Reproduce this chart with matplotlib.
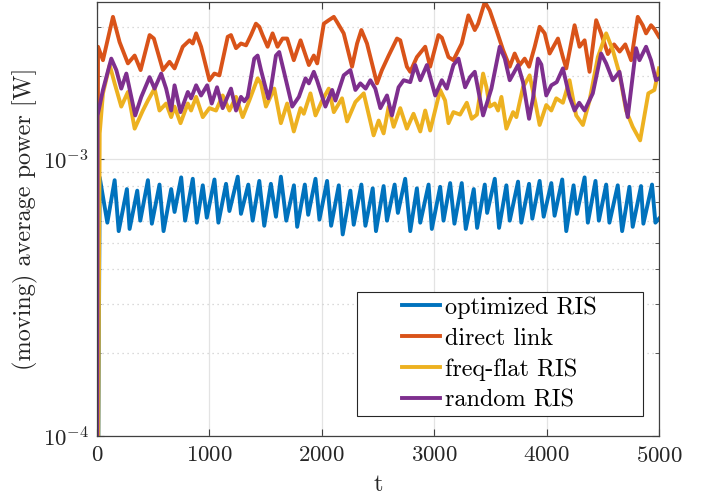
import matplotlib
matplotlib.use("Agg")
import matplotlib.pyplot as plt
from matplotlib.patches import Rectangle
import numpy as np

# moving average power, values in mW (scaled to W below)
t_opt = [0, 24, 92, 157, 193, 266, 290, 358, 385, 453, 488, 556, 592, 660, 690, 749, 784, 852, 888, 941,
         977, 1045, 1080, 1148, 1178, 1252, 1281, 1346, 1385, 1444, 1488, 1547, 1592, 1636, 1684, 1752, 1781,
         1849, 1879, 1944, 1979, 2047, 2083, 2151, 2186, 2254, 2284, 2352, 2388, 2453, 2482, 2550, 2580, 2648,
         2677, 2742, 2787, 2846, 2876, 2950, 2979, 3053, 3083, 3142, 3180, 3245, 3281, 3352, 3382, 3450, 3471,
         3539, 3577, 3642, 3672, 3746, 3775, 3844, 3873, 3938, 3974, 4042, 4071, 4139, 4175, 4240, 4269, 4338,
         4367, 4435, 4465, 4530, 4559, 4633, 4672, 4737, 4766, 4840, 4861, 4938, 4968, 5000]
p_opt = [0.01, 0.86, 0.59, 0.84, 0.55, 0.78, 0.56, 0.77, 0.60, 0.84, 0.585, 0.81, 0.55, 0.78, 0.645, 0.86, 0.60,
         0.85, 0.59, 0.805, 0.615, 0.845, 0.59, 0.815, 0.65, 0.865, 0.635, 0.81, 0.60, 0.835, 0.575, 0.815, 0.62,
         0.865, 0.60, 0.805, 0.57, 0.81, 0.63, 0.85, 0.605, 0.835, 0.575, 0.805, 0.535, 0.77, 0.58, 0.81, 0.575,
         0.785, 0.55, 0.80, 0.60, 0.81, 0.64, 0.85, 0.55, 0.785, 0.59, 0.81, 0.56, 0.795, 0.60, 0.82, 0.585, 0.82,
         0.56, 0.78, 0.565, 0.81, 0.64, 0.85, 0.565, 0.805, 0.60, 0.83, 0.59, 0.815, 0.61, 0.835, 0.62, 0.82,
         0.625, 0.845, 0.55, 0.805, 0.635, 0.86, 0.59, 0.835, 0.60, 0.81, 0.59, 0.805, 0.55, 0.795, 0.57, 0.80,
         0.585, 0.81, 0.59, 0.61]

t_dir = [0, 9, 53, 142, 201, 275, 335, 388, 468, 506, 586, 645, 690, 763, 823, 852, 882, 926, 1000, 1044,
         1089, 1163, 1192, 1237, 1281, 1326, 1370, 1414, 1444, 1473, 1518, 1562, 1606, 1651, 1692, 1751, 1811,
         1840, 1885, 1929, 1959, 2018, 2062, 2107, 2136, 2195, 2269, 2314, 2352, 2402, 2491, 2535, 2595, 2669,
         2698, 2757, 2787, 2846, 2920, 2964, 3038, 3068, 3127, 3171, 3245, 3304, 3361, 3391, 3450, 3494, 3554,
         3613, 3672, 3716, 3761, 3805, 3844, 3894, 3938, 3983, 4027, 4101, 4145, 4175, 4249, 4293, 4338, 4382,
         4441, 4485, 4545, 4600, 4650, 4700, 4752, 4811, 4855, 4885, 4929, 4960, 5000]
p_dir = [0.01, 2.55, 2.28, 3.27, 2.65, 2.22, 2.37, 2.10, 2.81, 2.73, 2.10, 2.25, 2.13, 2.55, 2.69, 2.62, 2.85,
         2.55, 1.93, 2.04, 2.01, 2.77, 2.81, 2.52, 2.62, 2.58, 2.81, 3.09, 3.01, 2.81, 2.55, 2.85, 2.55, 2.73,
         2.73, 2.28, 2.69, 2.48, 2.19, 2.37, 2.22, 3.09, 3.18, 3.27, 3.13, 2.85, 2.16, 2.62, 2.93, 2.62, 1.88,
         2.10, 2.37, 2.73, 2.69, 2.16, 2.07, 2.34, 2.55, 2.16, 2.81, 2.75, 2.34, 2.28, 2.62, 3.31, 2.93, 3.09,
         3.70, 3.45, 2.93, 2.48, 2.16, 2.41, 2.19, 2.31, 2.16, 2.55, 3.01, 2.85, 2.41, 2.73, 2.34, 2.13, 3.05,
         2.55, 2.69, 2.07, 3.18, 2.85, 2.40, 2.60, 2.45, 2.60, 2.28, 3.27, 3.05, 2.85, 3.05, 2.95, 2.77]

t_flat = [0, 24, 53, 113, 157, 216, 275, 335, 408, 453, 512, 556, 615, 660, 690, 743, 808, 837, 882, 941,
          1000, 1059, 1118, 1178, 1237, 1296, 1355, 1429, 1459, 1503, 1577, 1636, 1692, 1751, 1811, 1840, 1899,
          1944, 2003, 2062, 2107, 2180, 2225, 2299, 2373, 2461, 2506, 2550, 2595, 2639, 2698, 2757, 2816, 2876,
          2920, 2964, 3053, 3097, 3127, 3171, 3230, 3290, 3334, 3380, 3435, 3465, 3494, 3539, 3568, 3598, 3642,
          3702, 3731, 3790, 3849, 3900, 3938, 3997, 4042, 4086, 4145, 4204, 4263, 4323, 4382, 4456, 4530, 4589,
          4648, 4707, 4766, 4832, 4905, 4959, 5000]
p_flat = [0.01, 1.24, 1.73, 2.19, 1.88, 1.55, 1.75, 1.29, 1.50, 1.63, 1.80, 1.50, 1.59, 1.42, 1.55, 1.35, 1.59,
          1.50, 1.68, 1.42, 1.53, 1.50, 1.70, 1.50, 1.68, 1.42, 1.63, 1.96, 1.88, 1.55, 1.80, 1.35, 1.59, 1.26,
          1.53, 1.46, 1.73, 1.44, 1.63, 1.80, 1.48, 1.66, 1.37, 1.61, 1.73, 1.22, 1.38, 1.24, 1.55, 1.31, 1.53,
          1.29, 1.46, 1.26, 1.50, 1.27, 1.78, 1.63, 1.35, 1.48, 1.45, 1.60, 1.40, 1.45, 2.04, 1.82, 1.55, 1.59,
          1.50, 1.68, 1.29, 1.48, 1.42, 1.82, 2.01, 1.60, 1.33, 1.57, 1.50, 1.66, 1.60, 1.93, 1.44, 1.33, 1.63,
          2.34, 2.85, 2.48, 2.04, 1.50, 1.31, 1.17, 1.73, 1.78, 2.13]

t_rnd = [0, 5, 53, 127, 172, 216, 261, 340, 394, 468, 512, 571, 615, 660, 690, 743, 808, 837, 882, 926, 980,
         1021, 1068, 1118, 1192, 1237, 1281, 1311, 1340, 1399, 1429, 1459, 1524, 1547, 1592, 1621, 1666, 1737,
         1796, 1855, 1885, 1929, 1959, 2032, 2092, 2121, 2195, 2254, 2299, 2343, 2390, 2432, 2476, 2521, 2580,
         2624, 2683, 2728, 2787, 2831, 2876, 2935, 3009, 3068, 3112, 3171, 3216, 3275, 3319, 3361, 3435, 3509,
         3583, 3628, 3672, 3746, 3790, 3844, 3879, 3923, 3953, 3997, 4042, 4090, 4145, 4204, 4249, 4290, 4338,
         4411, 4485, 4530, 4589, 4648, 4722, 4796, 4826, 4885, 4929, 4973, 5000]
p_rnd = [0.01, 1.44, 1.78, 2.31, 2.10, 1.80, 2.04, 1.44, 1.68, 1.98, 1.80, 2.04, 1.80, 1.50, 1.85, 1.48, 1.75,
         1.66, 1.85, 1.70, 1.85, 1.59, 1.82, 1.53, 1.80, 1.50, 1.68, 1.62, 1.68, 2.31, 2.37, 2.10, 1.66, 1.80,
         2.37, 2.44, 2.05, 1.55, 1.68, 1.96, 1.88, 2.07, 1.92, 1.55, 1.78, 1.63, 2.01, 2.10, 1.78, 1.88, 1.80,
         1.93, 1.80, 1.53, 1.70, 1.44, 1.82, 1.93, 1.90, 2.19, 1.93, 2.19, 1.70, 1.93, 1.80, 2.19, 2.31, 1.82,
         1.98, 2.07, 1.44, 1.80, 2.55, 2.31, 1.93, 2.19, 1.90, 1.40, 1.66, 2.31, 2.20, 1.70, 1.85, 1.90, 2.13,
         1.68, 1.50, 1.60, 1.50, 1.73, 2.41, 2.22, 1.93, 2.07, 1.42, 2.52, 2.28, 2.55, 2.28, 1.93, 1.96]

labels = ["optimized RIS", "direct link", "freq-flat RIS", "random RIS"]
colors = ["#0072BD", "#D95319", "#EDB120", "#7E2F8E"]

plt.rcParams["font.family"] = "serif"
plt.rcParams["font.serif"] = ["cmr10"]
plt.rcParams["mathtext.fontset"] = "cm"
plt.rcParams["axes.formatter.use_mathtext"] = True
plt.rcParams["axes.unicode_minus"] = False

fig = plt.figure(figsize=(7.09, 4.99), dpi=100)
ax = fig.add_axes([97 / 709, 1 - 436 / 499, 562 / 709, 434 / 499])

series = [(t_opt, p_opt), (t_dir, p_dir), (t_flat, p_flat), (t_rnd, p_rnd)]
for (t, p), lab, c in zip(series, labels, colors):
    ax.plot(t, np.array(p) * 1e-3, color=c, lw=2.8, label=lab, solid_joinstyle="round")

ax.set_yscale("log")
ax.set_xlim(0, 5000)
ax.set_ylim(1e-4, 3.7e-3)
ax.set_xticks([0, 1000, 2000, 3000, 4000, 5000])

ax.grid(True, which="major", color="#e3e3e3", lw=0.9)
ax.grid(True, which="minor", axis="y", color="#cfcfcf", lw=0.9, ls=(0, (1, 3)))
ax.set_axisbelow(True)

for s in ax.spines.values():
    s.set_color("#404040")
    s.set_linewidth(0.9)
ax.tick_params(which="both", direction="in", top=True, right=True, colors="#404040",
               labelcolor="#262626", labelsize=16.5)
ax.tick_params(which="major", length=5)
ax.tick_params(axis="x", which="major", pad=7)
ax.tick_params(axis="y", which="major", pad=6)
ax.tick_params(which="minor", length=3)

ax.set_xlabel("t", fontsize=17.5, color="#262626", labelpad=6)
ax.set_ylabel("(moving) average power [W]", fontsize=17.5, color="#262626", labelpad=3)

# legend box drawn separately so the padding matches the reference
ax.add_patch(Rectangle((0.462, 0.046), 0.509, 0.286, transform=ax.transAxes, facecolor="white",
                       edgecolor="#262626", lw=0.8, zorder=5))
leg = ax.legend(loc="center", bbox_to_anchor=(0.7165, 0.189), borderaxespad=0, frameon=False,
                fontsize=17.5, handlelength=1.56, handletextpad=0.2, labelspacing=0.36, borderpad=0.2)
leg.set_zorder(6)

fig.savefig("out.png", dpi=100)
